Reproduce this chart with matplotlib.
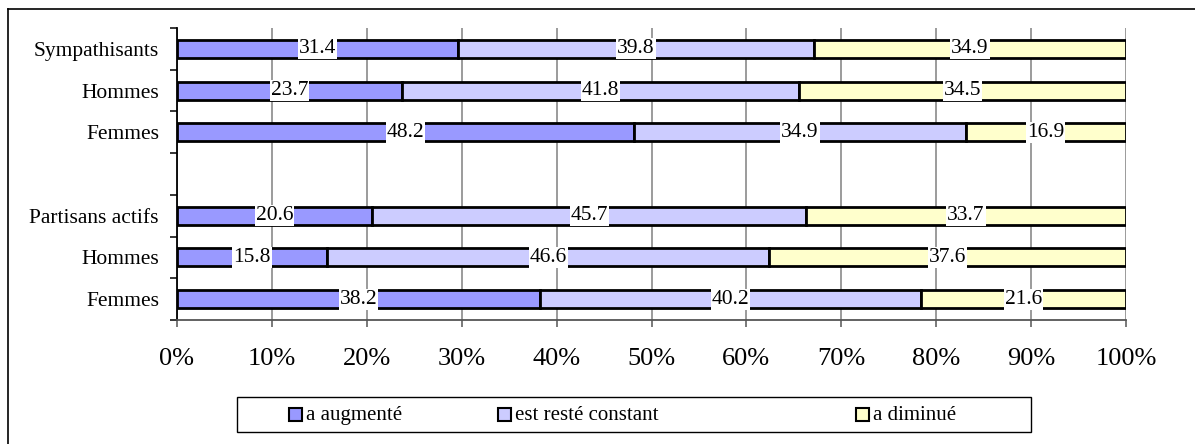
import matplotlib
matplotlib.use("Agg")
import matplotlib.pyplot as plt
from matplotlib.patches import Rectangle
from matplotlib.lines import Line2D
import numpy as np

plt.rcParams['font.family'] = ['Liberation Serif', 'DejaVu Serif']

# data, top to bottom ("" = empty spacer row)
categories = ["Sympathisants", "Hommes", "Femmes", "", "Partisans actifs", "Hommes", "Femmes"]
augmente = [31.4, 23.7, 48.2, None, 20.6, 15.8, 38.2]
constant = [39.8, 41.8, 34.9, None, 45.7, 46.6, 40.2]
diminue = [34.9, 34.5, 16.9, None, 33.7, 37.6, 21.6]
series_names = ["a augmenté", "est resté constant", "a diminué"]
colors = ["#9999FF", "#CCCCFF", "#FFFFCC"]

W, H = 1195, 444
fig = plt.figure(figsize=(W / 100, H / 100), dpi=100)
ax = fig.add_axes([177 / W, 1 - 320 / H, (1126 - 177) / W, (320 - 28) / H])


def fx(px):
    return px / W


def fy(py):
    return 1 - py / H


n = len(categories)
ypos = np.arange(n)
for i in range(n):
    if augmente[i] is None:
        continue
    vals = [augmente[i], constant[i], diminue[i]]
    total = sum(vals)
    left = 0.0
    for v, c in zip(vals, colors):
        w = v / total
        ax.barh(ypos[i], w, left=left, height=0.43, color=c,
                edgecolor="black", linewidth=2.0, zorder=3)
        ax.text(left + w / 2, ypos[i], f"{v:.1f}", ha="center", va="center",
                fontsize=15.5, zorder=4,
                bbox=dict(facecolor="white", edgecolor="none", pad=0.6))
        left += w

ax.set_xlim(0, 1)
ax.set_ylim(n - 0.5, -0.5)
ax.set_xticks(np.linspace(0, 1, 11))
ax.set_xticklabels([f"{k}%" for k in range(0, 101, 10)], fontsize=19)
ax.set_yticks(ypos)
ax.set_yticklabels(categories, fontsize=15.5)
ax.set_yticks(np.arange(-0.5, n, 1), minor=True)
ax.tick_params(axis="y", which="major", length=0, pad=13)
ax.tick_params(axis="y", which="minor", length=5, width=1.1, color="black", direction="out")
ax.tick_params(axis="x", which="major", length=5, width=1.1, color="#555555",
               direction="out", pad=15)
ax.xaxis.grid(True, color="#808080", linewidth=1.1, zorder=0)
ax.set_axisbelow(True)
for s in ["top", "right"]:
    ax.spines[s].set_visible(False)
ax.spines["left"].set_color("black")
ax.spines["left"].set_linewidth(1.3)
ax.spines["bottom"].set_color("#555555")
ax.spines["bottom"].set_linewidth(1.3)

# outer frame (left and top edges only, rest is cropped off)
fig.lines.append(Line2D([fx(7.5), fx(7.5)], [0, fy(9.5)], transform=fig.transFigure,
                        color="black", linewidth=1.2))
fig.lines.append(Line2D([fx(7.5), 1], [fy(9.5), fy(9.5)], transform=fig.transFigure,
                        color="black", linewidth=1.2))

# legend box
fig.patches.append(Rectangle((fx(237), fy(432)), fx(1031) - fx(237), fy(397) - fy(432),
                             transform=fig.transFigure, fill=False,
                             edgecolor="black", linewidth=1.0))
marker_x = [288, 497, 855]
for mx, name, c in zip(marker_x, series_names, colors):
    fig.patches.append(Rectangle((fx(mx + 1), fy(421)), fx(13), fy(408) - fy(421),
                                 transform=fig.transFigure, facecolor=c,
                                 edgecolor="black", linewidth=1.5))
    fig.text(fx(mx + 18), fy(415), name, ha="left", va="center", fontsize=15)

fig.savefig("out.png", dpi=100)
